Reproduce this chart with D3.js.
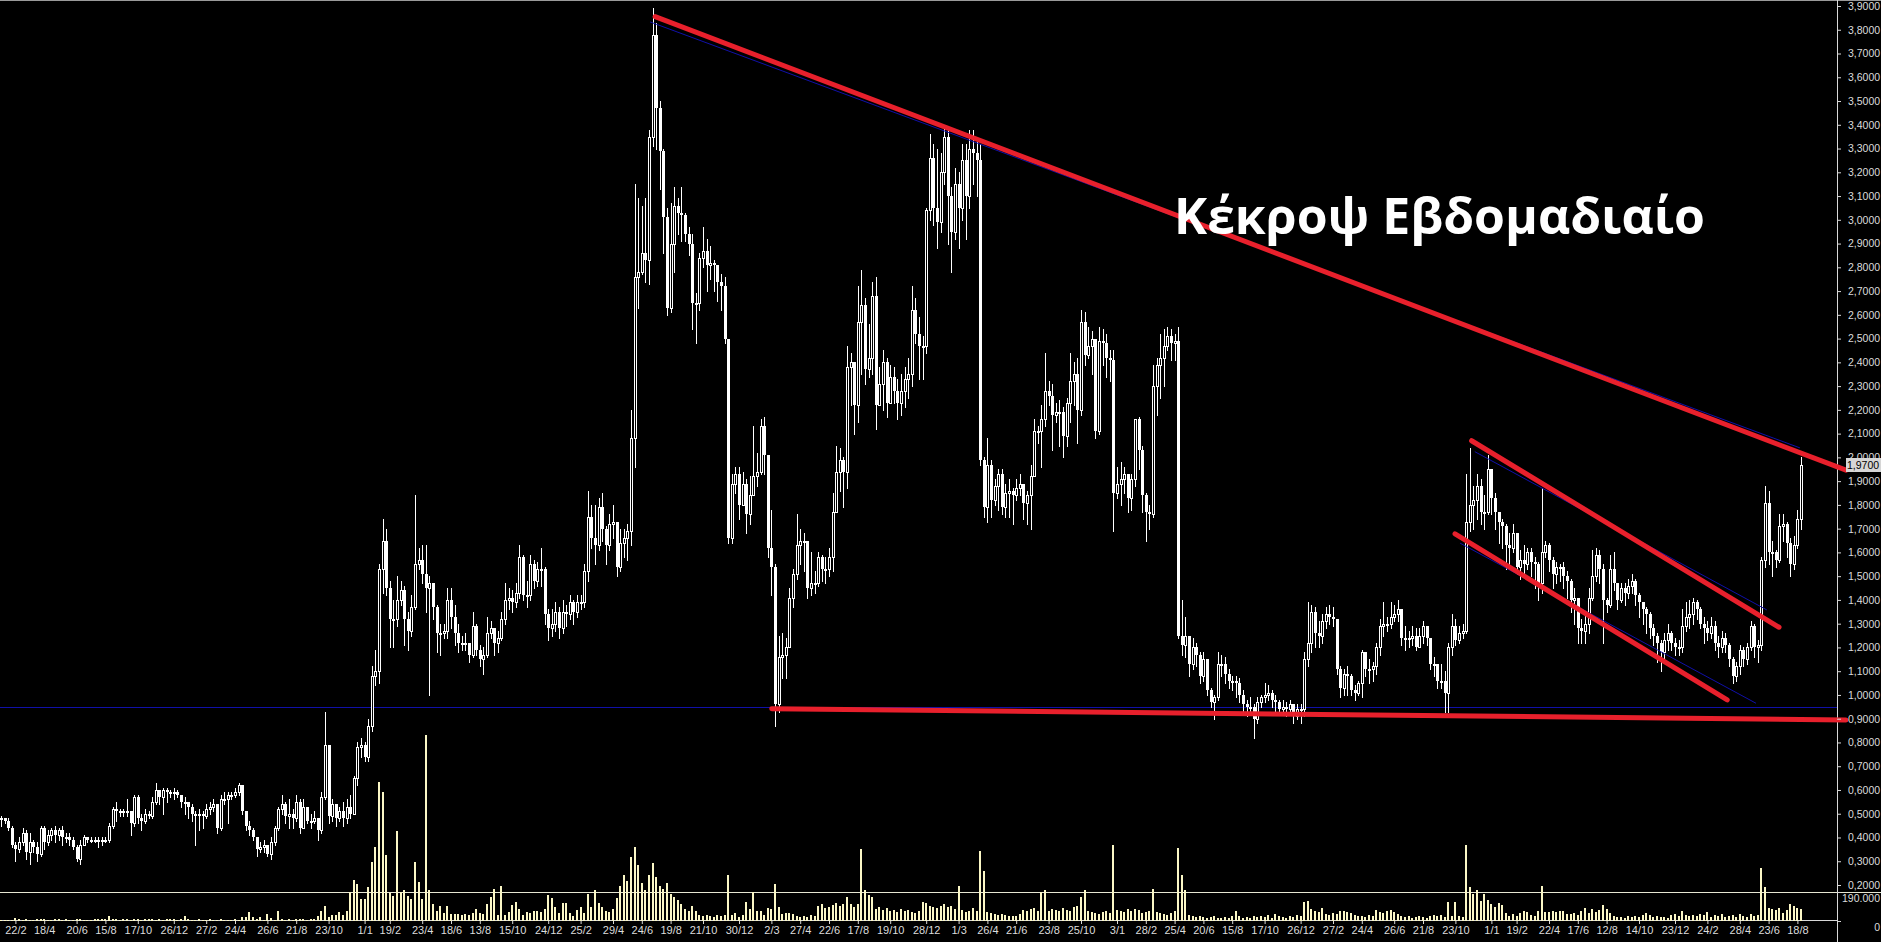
<!DOCTYPE html>
<html>
<head>
<meta charset="utf-8">
<script src="https://cdn.jsdelivr.net/npm/d3@7"></script>
<style>
  html, body { margin: 0; background: #000; overflow: hidden; }
</style>
</head>
<body>
<div id="chart"></div>
<script>
// weekly bars, first bar is Friday 25/1/2008
var startDate = [2008, 1, 25];

var closes = [
  0.48,0.47,0.44,0.37,0.35,0.38,0.42,0.34,0.38,0.36,
  0.33,0.44,0.38,0.41,0.43,0.41,0.43,0.40,0.40,0.39,
  0.36,0.31,0.37,0.40,0.39,0.39,0.39,0.39,0.39,0.39,
  0.45,0.52,0.51,0.51,0.51,0.51,0.46,0.57,0.48,0.47,
  0.50,0.49,0.55,0.60,0.57,0.60,0.59,0.59,0.59,0.58,
  0.55,0.55,0.53,0.50,0.50,0.50,0.49,0.52,0.53,0.54,
  0.44,0.56,0.56,0.58,0.58,0.59,0.62,0.51,0.45,0.43,
  0.40,0.35,0.36,0.37,0.33,0.38,0.44,0.52,0.54,0.49,
  0.50,0.48,0.55,0.44,0.53,0.47,0.47,0.48,0.43,0.57,
  0.79,0.49,0.54,0.48,0.51,0.48,0.53,0.50,0.65,0.78,
  0.79,0.74,0.87,1.08,1.10,1.53,1.65,1.45,1.32,1.32,
  1.40,1.44,1.32,1.27,1.37,1.55,1.57,1.51,1.45,1.47,
  1.37,1.26,1.26,1.27,1.40,1.33,1.26,1.22,1.22,1.22,
  1.17,1.29,1.19,1.15,1.17,1.26,1.28,1.22,1.24,1.32,
  1.40,1.41,1.39,1.43,1.58,1.42,1.42,1.55,1.48,1.53,
  1.53,1.34,1.28,1.30,1.35,1.28,1.35,1.34,1.39,1.35,
  1.39,1.39,1.52,1.75,1.66,1.63,1.79,1.70,1.63,1.72,
  1.73,1.54,1.64,1.66,1.69,2.08,2.76,2.78,2.86,2.83,
  3.35,3.78,3.47,3.29,3.01,2.63,2.90,3.06,3.03,3.02,
  2.94,2.90,2.65,2.65,2.84,2.87,2.81,2.82,2.81,2.74,
  2.72,2.50,1.66,1.89,1.93,1.80,1.89,1.76,1.84,1.92,
  1.94,2.13,2.01,1.62,1.54,0.96,1.16,1.17,1.20,1.41,
  1.51,1.63,1.65,1.65,1.45,1.47,1.47,1.58,1.53,1.53,
  1.58,1.77,1.94,1.99,1.94,2.38,2.40,2.22,2.57,2.64,
  2.37,2.42,2.68,2.22,2.31,2.40,2.23,2.34,2.28,2.23,
  2.28,2.33,2.35,2.62,2.52,2.47,2.47,3.04,3.26,3.05,
  2.99,3.20,3.35,3.10,2.95,3.15,3.05,3.25,3.10,3.30,
  3.28,3.25,1.99,1.79,1.97,1.82,1.88,1.93,1.79,1.85,
  1.86,1.84,1.87,1.89,1.81,1.84,1.92,2.11,2.11,2.16,
  2.28,2.26,2.18,2.19,2.19,2.09,2.23,2.32,2.35,2.20,
  2.57,2.43,2.47,2.50,2.11,2.49,2.48,2.42,2.41,1.85,
  1.89,1.91,1.93,1.83,1.91,2.16,2.03,1.84,1.77,1.76,
  2.30,2.39,2.42,2.47,2.51,2.48,2.49,1.25,1.21,1.25,
  1.13,1.20,1.17,1.08,1.15,1.02,0.97,0.99,1.13,1.13,
  1.09,1.06,1.06,1.05,1.00,0.96,0.95,0.95,0.90,0.97,
  0.99,1.00,1.01,0.98,0.97,0.94,0.95,0.94,0.96,0.91,
  0.94,0.94,1.15,1.22,1.35,1.26,1.25,1.31,1.34,1.33,
  1.32,1.11,1.03,1.09,1.08,1.02,1.01,1.05,1.18,1.11,
  1.11,1.12,1.20,1.29,1.30,1.30,1.33,1.34,1.36,1.24,
  1.24,1.24,1.25,1.20,1.25,1.29,1.24,1.13,1.13,1.06,
  1.06,1.01,1.20,1.29,1.23,1.26,1.27,1.73,1.80,1.82,
  1.88,1.77,1.77,1.95,1.83,1.77,1.73,1.71,1.63,1.62,
  1.68,1.54,1.57,1.55,1.60,1.56,1.55,1.47,1.60,1.63,
  1.57,1.51,1.54,1.54,1.50,1.48,1.40,1.41,1.28,1.27,
  1.30,1.41,1.50,1.59,1.53,1.40,1.38,1.53,1.47,1.40,
  1.45,1.43,1.46,1.48,1.42,1.39,1.36,1.34,1.28,1.25,
  1.22,1.18,1.23,1.26,1.22,1.20,1.20,1.29,1.33,1.34,
  1.39,1.36,1.30,1.28,1.26,1.29,1.22,1.20,1.24,1.21,
  1.15,1.08,1.12,1.19,1.15,1.20,1.29,1.20,1.21,1.57,
  1.81,1.60,1.60,1.57,1.71,1.72,1.64,1.55,1.63,1.74,1.97
];

var highs = [
  0.49,0.48,0.48,0.45,0.38,0.40,0.44,0.43,0.42,0.39,
  0.38,0.45,0.45,0.43,0.44,0.45,0.44,0.45,0.42,0.42,
  0.40,0.37,0.39,0.41,0.40,0.40,0.40,0.40,0.40,0.40,
  0.46,0.53,0.55,0.52,0.52,0.56,0.51,0.58,0.58,0.50,
  0.52,0.51,0.57,0.63,0.60,0.61,0.61,0.60,0.61,0.60,
  0.58,0.57,0.55,0.54,0.51,0.52,0.51,0.54,0.55,0.56,
  0.54,0.58,0.59,0.59,0.59,0.61,0.63,0.62,0.51,0.47,
  0.44,0.40,0.38,0.39,0.37,0.40,0.45,0.53,0.58,0.55,
  0.56,0.52,0.58,0.56,0.56,0.53,0.50,0.51,0.48,0.59,
  0.93,0.79,0.56,0.54,0.53,0.55,0.56,0.58,0.66,0.80,
  0.82,0.80,0.90,1.12,1.19,1.55,1.74,1.70,1.48,1.40,
  1.50,1.48,1.46,1.35,1.42,1.84,1.62,1.63,1.63,1.50,
  1.45,1.38,1.30,1.30,1.45,1.45,1.38,1.30,1.25,1.26,
  1.22,1.35,1.30,1.21,1.20,1.33,1.31,1.28,1.27,1.35,
  1.47,1.45,1.44,1.47,1.63,1.59,1.48,1.59,1.57,1.56,
  1.62,1.54,1.36,1.36,1.39,1.37,1.40,1.38,1.42,1.40,
  1.42,1.42,1.55,1.86,1.80,1.80,1.83,1.85,1.71,1.76,
  1.80,1.73,1.70,1.70,1.72,2.20,3.15,3.09,3.06,3.09,
  3.38,3.89,3.83,3.50,3.30,3.05,3.07,3.14,3.09,3.14,
  3.03,2.97,2.94,2.69,2.86,2.97,2.92,2.89,2.83,2.80,
  2.77,2.76,2.50,1.93,1.96,1.96,1.94,1.91,1.92,2.13,
  2.02,2.16,2.17,1.90,1.78,1.55,1.25,1.26,1.24,1.45,
  1.53,1.76,1.70,1.68,1.64,1.60,1.52,1.60,1.59,1.58,
  1.62,1.85,2.05,2.04,2.00,2.47,2.44,2.35,2.72,2.79,
  2.67,2.56,2.74,2.76,2.38,2.45,2.42,2.39,2.38,2.33,
  2.35,2.38,2.42,2.72,2.67,2.59,2.51,3.05,3.36,3.32,
  3.30,3.28,3.40,3.38,3.14,3.22,3.20,3.32,3.32,3.38,
  3.38,3.33,3.32,2.00,2.08,1.99,1.91,1.95,1.95,1.89,
  1.91,1.87,1.91,1.93,1.89,1.86,1.97,2.16,2.13,2.22,
  2.44,2.32,2.31,2.23,2.24,2.21,2.25,2.44,2.40,2.42,
  2.62,2.61,2.55,2.53,2.46,2.55,2.54,2.52,2.45,2.45,
  1.96,1.98,1.96,1.92,1.93,2.16,2.17,2.05,1.85,1.80,
  2.39,2.42,2.52,2.54,2.55,2.54,2.52,2.55,1.40,1.33,
  1.25,1.24,1.22,1.18,1.18,1.15,1.03,1.00,1.18,1.17,
  1.16,1.11,1.08,1.08,1.07,1.02,0.98,0.99,0.96,0.99,
  1.00,1.05,1.04,1.02,1.00,0.98,0.98,0.97,0.98,0.96,
  0.96,0.96,1.18,1.39,1.38,1.37,1.31,1.34,1.37,1.38,
  1.37,1.32,1.12,1.11,1.12,1.09,1.04,1.06,1.19,1.18,
  1.15,1.14,1.22,1.32,1.39,1.33,1.39,1.38,1.40,1.36,
  1.29,1.27,1.29,1.28,1.28,1.31,1.29,1.21,1.16,1.12,
  1.13,1.10,1.22,1.34,1.32,1.29,1.30,1.93,2.04,1.88,
  1.93,1.91,1.84,2.01,1.95,1.85,1.75,1.74,1.72,1.68,
  1.72,1.68,1.61,1.63,1.62,1.62,1.58,1.56,1.87,1.65,
  1.64,1.58,1.56,1.55,1.56,1.52,1.49,1.45,1.41,1.32,
  1.35,1.45,1.61,1.62,1.61,1.55,1.41,1.59,1.60,1.46,
  1.47,1.47,1.49,1.51,1.49,1.43,1.39,1.37,1.35,1.30,
  1.26,1.23,1.26,1.30,1.27,1.24,1.23,1.36,1.39,1.40,
  1.41,1.40,1.37,1.33,1.31,1.33,1.31,1.25,1.27,1.26,
  1.22,1.16,1.14,1.21,1.20,1.22,1.31,1.30,1.23,1.58,
  1.88,1.86,1.65,1.61,1.76,1.76,1.73,1.66,1.67,1.78,2.00
];

var lows = [
  0.45,0.46,0.43,0.36,0.30,0.34,0.37,0.31,0.29,0.34,
  0.30,0.32,0.35,0.37,0.39,0.38,0.39,0.37,0.38,0.37,
  0.35,0.30,0.29,0.37,0.38,0.38,0.38,0.36,0.37,0.38,
  0.38,0.44,0.47,0.49,0.49,0.49,0.41,0.45,0.46,0.43,
  0.46,0.48,0.48,0.54,0.54,0.50,0.55,0.57,0.56,0.57,
  0.53,0.50,0.48,0.47,0.37,0.43,0.44,0.48,0.50,0.51,
  0.42,0.43,0.54,0.46,0.56,0.57,0.58,0.50,0.43,0.41,
  0.39,0.32,0.34,0.34,0.32,0.31,0.37,0.43,0.50,0.46,
  0.44,0.44,0.47,0.42,0.44,0.46,0.44,0.46,0.39,0.42,
  0.56,0.46,0.47,0.45,0.47,0.45,0.46,0.48,0.50,0.62,
  0.74,0.72,0.72,0.85,1.04,1.05,1.43,1.42,1.20,1.20,
  1.29,1.38,1.21,1.19,1.25,1.36,1.53,1.47,1.35,1.00,
  1.32,1.18,1.17,1.24,1.24,1.28,1.21,1.18,1.19,1.19,
  1.14,1.16,1.17,1.12,1.09,1.16,1.24,1.17,1.18,1.23,
  1.30,1.36,1.35,1.37,1.41,1.40,1.37,1.40,1.45,1.46,
  1.46,1.30,1.23,1.25,1.27,1.24,1.26,1.29,1.32,1.30,
  1.33,1.36,1.37,1.48,1.62,1.55,1.61,1.65,1.55,1.61,
  1.66,1.50,1.52,1.58,1.57,1.63,1.96,2.63,2.77,2.74,
  2.73,3.31,3.30,3.13,2.86,2.60,2.61,2.78,2.94,2.91,
  2.91,2.85,2.54,2.48,2.62,2.80,2.70,2.75,2.70,2.66,
  2.62,2.48,1.64,1.64,1.85,1.74,1.82,1.68,1.72,1.85,
  1.88,1.93,1.93,1.58,1.42,0.87,0.93,1.07,1.07,1.31,
  1.37,1.49,1.55,1.52,1.41,1.42,1.43,1.46,1.48,1.47,
  1.50,1.52,1.77,1.86,1.79,1.87,2.22,2.10,2.15,2.35,
  2.31,2.34,2.35,2.12,2.27,2.20,2.17,2.26,2.23,2.16,
  2.18,2.21,2.25,2.30,2.48,2.33,2.33,2.44,3.00,2.98,
  2.88,2.95,3.15,2.90,2.78,2.92,2.88,3.00,2.92,3.05,
  3.15,3.10,1.97,1.75,1.73,1.75,1.80,1.78,1.76,1.75,
  1.75,1.72,1.82,1.84,1.74,1.72,1.70,1.92,2.06,1.96,
  2.13,2.22,2.03,2.15,2.05,2.00,2.05,2.15,2.22,2.06,
  2.18,2.39,2.42,2.35,2.08,2.10,2.39,2.34,2.32,1.69,
  1.83,1.80,1.85,1.77,1.78,1.88,1.95,1.77,1.65,1.70,
  1.75,2.18,2.25,2.30,2.45,2.41,2.41,1.24,1.17,1.16,
  1.08,1.11,1.12,1.05,1.06,1.00,0.95,0.90,0.98,1.08,
  1.05,1.03,1.02,0.99,0.97,0.93,0.91,0.92,0.82,0.88,
  0.95,0.97,0.98,0.95,0.93,0.92,0.92,0.91,0.93,0.88,
  0.90,0.88,0.91,1.12,1.18,1.20,1.20,1.22,1.28,1.30,
  1.29,1.09,0.99,1.00,1.00,1.00,0.98,1.00,0.99,1.08,
  1.05,1.06,1.09,1.17,1.25,1.27,1.28,1.31,1.31,1.21,
  1.19,1.20,1.21,1.19,1.20,1.22,1.21,1.11,1.08,1.03,
  1.03,0.93,0.93,1.17,1.21,1.22,1.24,1.26,1.69,1.70,
  1.74,1.72,1.70,1.76,1.76,1.70,1.64,1.62,1.53,1.55,
  1.60,1.51,1.49,1.50,1.53,1.50,1.45,1.40,1.43,1.58,
  1.52,1.45,1.47,1.48,1.45,1.41,1.35,1.30,1.22,1.22,
  1.22,1.26,1.40,1.48,1.47,1.22,1.35,1.37,1.44,1.36,
  1.39,1.38,1.41,1.43,1.38,1.33,1.30,1.26,1.24,1.21,
  1.14,1.10,1.15,1.19,1.19,1.17,1.17,1.18,1.27,1.28,
  1.30,1.32,1.28,1.22,1.23,1.24,1.19,1.16,1.18,1.18,
  1.12,1.05,1.06,1.09,1.12,1.13,1.19,1.16,1.14,1.19,
  1.54,1.55,1.50,1.54,1.56,1.65,1.58,1.50,1.53,1.62,1.70
];

// weekly volume, thousands of shares
var volumes = [
  7,6,8,7,20,10,9,12,8,9,
  11,12,16,9,8,10,12,9,11,8,
  9,10,12,8,7,9,10,12,13,11,
  30,12,10,9,11,13,8,10,12,9,
  11,14,10,9,12,8,10,13,11,9,
  12,30,11,8,9,10,7,9,11,8,
  9,10,8,7,9,11,8,26,27,58,
  26,13,26,9,44,19,9,63,12,8,
  10,9,12,11,13,9,10,12,33,65,
  96,26,39,40,58,40,65,190,268,242,
  144,144,223,386,485,910,845,432,183,164,
  590,190,203,164,144,386,255,144,1219,203,
  110,66,98,52,98,46,46,46,40,46,
  40,52,79,52,46,110,160,210,40,230,
  40,59,105,125,79,40,59,52,66,66,
  59,79,170,150,92,52,118,118,52,33,
  72,92,52,180,92,200,118,90,66,59,
  80,150,230,300,260,420,485,370,250,200,
  300,380,290,230,210,250,180,160,140,110,
  80,66,98,66,40,33,40,33,26,40,
  33,40,300,40,52,26,40,125,79,190,
  66,66,40,85,80,240,92,46,52,52,
  46,33,26,33,26,40,33,98,110,85,
  92,105,115,98,110,160,110,90,110,470,
  200,170,160,79,92,72,85,66,72,59,
  79,66,72,59,52,66,125,118,98,92,
  85,98,110,92,98,79,230,72,59,66,
  85,66,460,330,59,52,46,40,46,40,
  33,33,33,46,72,66,79,85,66,190,
  200,66,79,72,66,85,72,66,92,98,
  160,200,66,59,52,46,59,66,52,500,
  72,66,59,79,66,79,72,52,59,66,
  210,59,52,46,40,52,66,480,300,200,
  40,33,26,33,26,20,26,33,20,20,
  26,20,33,66,33,20,26,20,33,26,
  33,26,40,20,46,33,26,20,33,26,
  40,33,125,130,79,66,59,85,46,40,
  52,46,66,66,59,52,40,33,33,26,
  40,33,72,59,52,66,72,59,46,33,
  26,33,20,26,33,26,20,33,40,33,
  40,26,125,33,125,33,26,500,220,180,
  200,130,180,140,110,92,118,105,52,33,
  46,33,52,66,59,40,33,66,230,59,
  59,66,59,66,66,46,46,52,40,66,
  85,52,79,59,72,105,79,52,33,26,
  26,20,33,26,33,26,40,52,40,26,
  33,26,26,20,40,46,33,66,40,33,
  40,33,46,40,59,26,40,33,46,26,
  33,40,26,46,33,26,46,33,40,350,
  220,85,79,72,85,52,72,110,98,85,80
];

var tickDates = [
  "22/2/2008","18/4/2008","20/6/2008","15/8/2008","17/10/2008","26/12/2008",
  "27/2/2009","24/4/2009","26/6/2009","21/8/2009","23/10/2009",
  "1/1/2010","19/2/2010","23/4/2010","18/6/2010","13/8/2010","15/10/2010","24/12/2010",
  "25/2/2011","29/4/2011","24/6/2011","19/8/2011","21/10/2011","30/12/2011",
  "2/3/2012","27/4/2012","22/6/2012","17/8/2012","19/10/2012","28/12/2012",
  "1/3/2013","26/4/2013","21/6/2013","23/8/2013","25/10/2013",
  "3/1/2014","28/2/2014","25/4/2014","20/6/2014","15/8/2014","17/10/2014","26/12/2014",
  "27/2/2015","24/4/2015","26/6/2015","21/8/2015","23/10/2015",
  "1/1/2016","19/2/2016","22/4/2016","17/6/2016","12/8/2016","14/10/2016","23/12/2016",
  "24/2/2017","28/4/2017","23/6/2017","18/8/2017"
];

var priceTicks = [3.9,3.8,3.7,3.6,3.5,3.4,3.3,3.2,3.1,3.0,2.9,2.8,2.7,2.6,2.5,2.4,2.3,2.2,2.1,2.0,
  1.9,1.8,1.7,1.6,1.5,1.4,1.3,1.2,1.1,1.0,0.9,0.8,0.7,0.6,0.5,0.4,0.3,0.2];
var volumeTicks = [0, 190];

// hand drawn trend lines, [bar index, price]
var redLines = [
  [[181.7, 3.855], [512.5, 1.946]],
  [[214.1, 0.942], [512.5, 0.895]],
  [[408.5, 2.07], [493.9, 1.285]],
  [[403.9, 1.678], [479.5, 0.979]]
];
var blueLines = [
  [[180.3, 3.833], [499.7, 2.04]],
  [[409.4, 2.024], [490.5, 1.358]],
  [[405.3, 1.639], [487.5, 0.965]]
];
var supportLevel = 0.95;
var title = "Κέκροψ Εβδομαδιαίο";

var width = 1881, height = 942;
var axisX = 1837;
var axisFont = "'Liberation Sans', Arial, sans-serif";

var x = d3.scaleLinear().domain([0, closes.length - 1]).range([1, 1801]);
var y = d3.scaleLinear().domain([0.2, 3.9]).range([885, 6]);
var yv = d3.scaleLinear().domain([0, 190]).range([921, 892]);

var svg = d3.select("#chart").append("svg")
  .attr("width", width)
  .attr("height", height)
  .style("display", "block")
  .style("background", "#000");

// frame lines
svg.append("line").attr("x1", 0).attr("x2", width).attr("y1", 0.5).attr("y2", 0.5)
  .attr("stroke", "#9a9a9a");
svg.append("line").attr("x1", 0).attr("x2", width).attr("y1", 892.5).attr("y2", 892.5)
  .attr("stroke", "#e6e6d2");
svg.append("line").attr("x1", 0).attr("x2", axisX).attr("y1", 920.5).attr("y2", 920.5)
  .attr("stroke", "#d8d8d8");
svg.append("line").attr("x1", axisX + 0.5).attr("x2", axisX + 0.5).attr("y1", 0).attr("y2", height)
  .attr("stroke", "#d8d8d8");

// support level
svg.append("line")
  .attr("x1", 0).attr("x2", axisX)
  .attr("y1", Math.round(y(supportLevel)) + 0.5).attr("y2", Math.round(y(supportLevel)) + 0.5)
  .attr("stroke", "#1010a8");

// volume bars
var bars = closes.map(function(c, i) { return {i: i, v: volumes[i]}; });
svg.append("g").selectAll("rect")
  .data(bars)
  .enter().append("rect")
    .attr("x", function(d) { return Math.round(x(d.i)) - 1; })
    .attr("width", 2)
    .attr("y", function(d) { return Math.round(yv(d.v)); })
    .attr("height", function(d) { return 921 - Math.round(yv(d.v)); })
    .attr("fill", "#fbf7c6")
    .attr("shape-rendering", "crispEdges");

// candles, open is the previous week's close
var candles = closes.map(function(c, i) {
  var o = i > 0 ? closes[i - 1] : c;
  return {i: i, o: o, c: c, h: Math.max(highs[i], o, c), l: Math.min(lows[i], o, c)};
});

var g = svg.append("g").attr("shape-rendering", "crispEdges");

g.selectAll(".wick")
  .data(candles)
  .enter().append("line")
    .attr("class", "wick")
    .attr("x1", function(d) { return Math.round(x(d.i)) + 0.5; })
    .attr("x2", function(d) { return Math.round(x(d.i)) + 0.5; })
    .attr("y1", function(d) { return Math.round(y(d.h)); })
    .attr("y2", function(d) { return Math.round(y(d.l)) + 1; })
    .attr("stroke", "#fff");

g.selectAll(".body")
  .data(candles)
  .enter().append("rect")
    .attr("class", "body")
    .each(function(d) {
      var top = Math.round(y(Math.max(d.o, d.c)));
      var bot = Math.round(y(Math.min(d.o, d.c)));
      var cx = Math.round(x(d.i));
      var el = d3.select(this);
      if (d.c >= d.o) {
        // rising week: hollow body
        el.attr("x", cx - 1 + 0.5).attr("width", 2)
          .attr("y", top + 0.5).attr("height", Math.max(1, bot - top))
          .attr("fill", "#000").attr("stroke", "#fff");
      } else {
        el.attr("x", cx - 1).attr("width", 3)
          .attr("y", top).attr("height", Math.max(1, bot - top))
          .attr("fill", "#fff");
      }
    });

// trend lines
var line = d3.line()
  .x(function(d) { return x(d[0]); })
  .y(function(d) { return y(d[1]); });

svg.append("g").selectAll("path")
  .data(blueLines)
  .enter().append("path")
    .attr("d", line)
    .attr("fill", "none")
    .attr("stroke", "#1010a8")
    .attr("stroke-width", 1);

svg.append("g").selectAll("path")
  .data(redLines)
  .enter().append("path")
    .attr("d", line)
    .attr("fill", "none")
    .attr("stroke", "#e8202c")
    .attr("stroke-width", 5)
    .attr("stroke-linecap", "round");

// price axis on the right
var fmt = function(v) { return d3.format(".4f")(v).replace(".", ","); };
var yAxis = svg.append("g")
  .attr("transform", "translate(" + axisX + ",0)")
  .call(d3.axisRight(y).tickValues(priceTicks).tickFormat(fmt).tickSize(4).tickPadding(7));
yAxis.select(".domain").remove();
yAxis.selectAll("line").attr("stroke", "#d8d8d8");
yAxis.selectAll("text")
  .attr("fill", "#dcdcdc")
  .style("font-family", axisFont)
  .style("font-size", "10.5px");

// last close marker
var last = closes[closes.length - 1];
var ly = Math.round(y(last));
svg.append("rect")
  .attr("x", 1846).attr("y", ly - 7).attr("width", 35).attr("height", 14)
  .attr("fill", "#d6d6d6");
svg.append("text")
  .attr("x", 1847).attr("y", ly + 4)
  .attr("fill", "#000")
  .style("font-family", axisFont)
  .style("font-size", "10.5px")
  .text(fmt(last));

// volume axis
var vAxis = svg.append("g")
  .attr("transform", "translate(" + axisX + ",0)")
  .call(d3.axisRight(yv).tickValues(volumeTicks).tickSize(4).tickPadding(0)
    .tickFormat(function(v) { return v ? "190.000" : "0"; }));
vAxis.select(".domain").remove();
vAxis.selectAll("line").attr("stroke", "#d8d8d8");
vAxis.selectAll("text")
  .attr("x", 43)
  .attr("dy", "0.9em")
  .attr("text-anchor", "end")
  .attr("fill", "#dcdcdc")
  .style("font-family", axisFont)
  .style("font-size", "10.5px");

// date axis
var t0 = new Date(startDate[0], startDate[1] - 1, startDate[2]);
var tickIdx = tickDates.map(function(s) {
  var p = s.split("/");
  var dt = new Date(+p[2], +p[1] - 1, +p[0]);
  return Math.round(Math.round((dt - t0) / 864e5) / 7);
});
var labelOf = {};
tickIdx.forEach(function(k, j) {
  var p = tickDates[j].split("/");
  labelOf[k] = p[0] + "/" + p[1];
});

var xAxis = svg.append("g")
  .attr("transform", "translate(0,921)")
  .call(d3.axisBottom(x).tickValues(tickIdx).tickSize(3).tickPadding(2)
    .tickFormat(function(k) { return labelOf[k]; }));
xAxis.select(".domain").remove();
xAxis.selectAll("line").attr("stroke", "#d8d8d8");
xAxis.selectAll("text")
  .attr("fill", "#dcdcdc")
  .style("font-family", axisFont)
  .style("font-size", "11px");

// title
var tt = svg.append("text")
  .attr("x", 1174)
  .attr("y", 234)
  .attr("fill", "#fff")
  .style("font-family", "'Open Sans', 'Noto Sans', sans-serif")
  .style("font-weight", "700")
  .style("font-size", "59px")
  .text(title);
var tw = tt.node().getComputedTextLength();
if (tw > 0) tt.style("font-size", (59 * 531 / tw) + "px");
</script>
</body>
</html>
